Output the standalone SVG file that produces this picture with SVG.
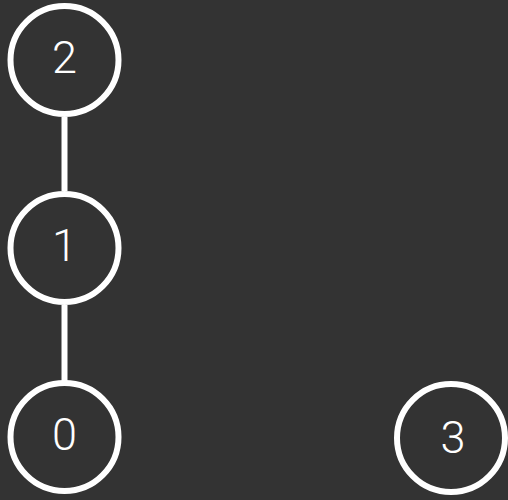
<svg xmlns="http://www.w3.org/2000/svg" width="508" height="500" viewBox="0 0 508 500">
<style>
.node circle{fill:none;stroke:#ffffff;stroke-width:6}
.node text{fill:#ffffff;font-family:Roboto,"Liberation Sans",sans-serif;font-weight:300;font-size:45px;text-anchor:middle;dominant-baseline:central}
.edge{stroke:#ffffff;stroke-width:6}
</style>
<rect width="508" height="500" fill="#333333"/>
<g id="edges">
<line class="edge" x1="64.5" y1="117" x2="64.5" y2="191"/>
<line class="edge" x1="64.5" y1="305" x2="64.5" y2="381"/>
</g>
<g id="node2" class="node"><circle cx="64.5" cy="60" r="54"/><text x="64.5" y="57">2</text></g>
<g id="node1" class="node"><circle cx="64.5" cy="248" r="54"/><text x="64.5" y="245">1</text></g>
<g id="node0" class="node"><circle cx="64.5" cy="437" r="54"/><text x="64.5" y="434">0</text></g>
<g id="node3" class="node"><circle cx="451" cy="438" r="54"/><text x="453" y="437">3</text></g>
</svg>
